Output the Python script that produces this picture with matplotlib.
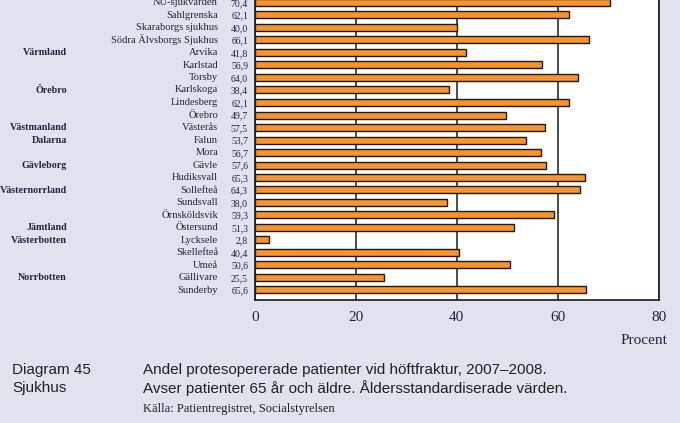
import matplotlib
matplotlib.use("Agg")
import matplotlib.pyplot as plt
import matplotlib.transforms as mtransforms

hospitals = ["NU-sjukvården", "Sahlgrenska", "Skaraborgs sjukhus", "Södra Älvsborgs Sjukhus",
             "Arvika", "Karlstad", "Torsby", "Karlskoga", "Lindesberg", "Örebro",
             "Västerås", "Falun", "Mora", "Gävle", "Hudiksvall", "Sollefteå", "Sundsvall",
             "Örnsköldsvik", "Östersund", "Lycksele", "Skellefteå", "Umeå", "Gällivare", "Sunderby"]
values = [70.4, 62.1, 40.0, 66.1, 41.8, 56.9, 64.0, 38.4, 62.1, 49.7,
          57.5, 53.7, 56.7, 57.6, 65.3, 64.3, 38.0, 59.3, 51.3, 2.8, 40.4, 50.6, 25.5, 65.6]
regions = {"Arvika": "Värmland", "Karlskoga": "Örebro", "Västerås": "Västmanland",
           "Falun": "Dalarna", "Gävle": "Gävleborg", "Sollefteå": "Västernorrland",
           "Östersund": "Jämtland", "Lycksele": "Västerbotten", "Gällivare": "Norrbotten"}
xticks = [0, 20, 40, 60, 80]

BG = "#DFE3EE"
BAR = "#F7942F"
TXT = "#22223f"
serif = ["Liberation Serif", "DejaVu Serif"]
sans = ["Liberation Sans", "DejaVu Sans"]

W, H = 680, 423
fig = plt.figure(figsize=(W / 100, H / 100), dpi=100, facecolor=BG)

n = len(hospitals)
row_px = 12.5
bottom_px = 300
top_px = 2.5 - 0.8 * row_px
ax = fig.add_axes([254.7 / W, 1 - bottom_px / H, (659 - 254.7) / W, (bottom_px - top_px) / H])
ax.set_facecolor("white")

ypos = list(range(n))
ax.barh(ypos, values, height=0.56, color=BAR, edgecolor="#1a1a1a", linewidth=1.0, zorder=3)
ax.set_ylim(n - 1 + 0.8, -0.8)
ax.set_xlim(0, 80)
ax.set_yticks([])
ax.set_xticks(xticks)
ax.set_xticklabels([str(t) for t in xticks], fontfamily=serif, fontsize=11, color=TXT)
ax.tick_params(axis="x", length=0, pad=8)
ax.grid(axis="x", color="#1a1a1a", linewidth=1.1, zorder=1)
for s in ax.spines.values():
    s.set_color("#1a1a1a")
    s.set_linewidth(1.2)

tr = mtransforms.blended_transform_factory(fig.transFigure, ax.transData)
for i, (h, v) in enumerate(zip(hospitals, values)):
    ax.text(218 / W, i, h, transform=tr, ha="right", va="center", fontsize=7.6,
            fontfamily=serif, color=TXT, clip_on=False)
    ax.text(248 / W, i + 0.08, f"{v:.1f}".replace(".", ","), transform=tr, ha="right", va="center",
            fontsize=7.0, fontfamily=serif, color=TXT, clip_on=False)
    if h in regions:
        ax.text(67 / W, i, regions[h], transform=tr, ha="right", va="center", fontsize=7.2,
                fontfamily=serif, fontweight="bold", color=TXT, clip_on=False)

fig.text(667 / W, 1 - 340 / H, "Procent", ha="right", va="center", fontsize=11,
         fontfamily=serif, color=TXT)

fig.text(12 / W, 1 - 370 / H, "Diagram 45", ha="left", va="center", fontsize=11,
         fontfamily=sans, color="#231F20")
fig.text(12 / W, 1 - 388 / H, "Sjukhus", ha="left", va="center", fontsize=11,
         fontfamily=sans, color="#231F20")
fig.text(143 / W, 1 - 370 / H, "Andel protesopererade patienter vid höftfraktur, 2007–2008.",
         ha="left", va="center", fontsize=11, fontfamily=sans, color="#231F20")
fig.text(143 / W, 1 - 388 / H, "Avser patienter 65 år och äldre. Åldersstandardiserade värden.",
         ha="left", va="center", fontsize=11, fontfamily=sans, color="#231F20")
fig.text(143 / W, 1 - 409 / H, "Källa: Patientregistret, Socialstyrelsen",
         ha="left", va="center", fontsize=9, fontfamily=serif, color="#231F20")

fig.savefig("out.png", dpi=100, facecolor=BG)
